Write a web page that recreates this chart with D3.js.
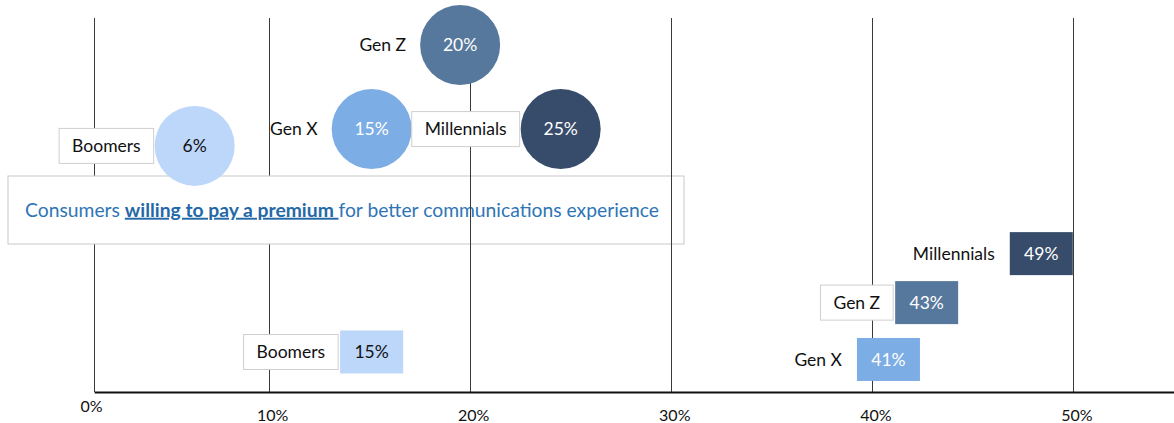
<!DOCTYPE html>
<html>
<head>
<meta charset="utf-8">
<script src="https://cdn.jsdelivr.net/npm/d3@7"></script>
<style>
  body { margin: 0; background: #fff; }
  svg { display: block; font-family: Lato, "Open Sans", sans-serif; }
</style>
</head>
<body>
<div id="chart"></div>
<script>
const generations = ['Boomers', 'Gen X', 'Gen Z', 'Millennials'];
const genColors = ['#bdd7fa', '#7dade5', '#57789d', '#374c6a'];
const genTextColors = ['#111111', '#ffffff', '#ffffff', '#ffffff'];

// upper group (bubbles): willing to pay a premium
const premiumLabels = ['6%', '15%', '20%', '25%'];
const premiumX = [0.063, 0.151, 0.195, 0.245];
const premiumY = [65.8, 70.3, 92.8, 70.3];
const premiumBoxed = [true, false, false, true];

// lower group (squares)
const lowerLabels = ['15%', '41%', '43%', '49%'];
const lowerX = [0.151, 0.408, 0.427, 0.484];
const lowerY = [10.7, 8.7, 23.9, 37.0];
const lowerBoxed = [true, false, true, false];

const tickValues = [0.1, 0.2, 0.3, 0.4, 0.5];
const axisStart = 0.013;
const startLabel = '0%';

const width = 1174;
const height = 423;
const bubbleRadius = 40;
const squareW = 63;
const squareH = 43;
const labelH = 35;
const labelPad = 13;

const svg = d3.select('#chart').append('svg')
  .attr('width', width)
  .attr('height', height);

const x = d3.scaleLinear().domain([0, 0.55]).range([68, 1174]);
const y = d3.scaleLinear().domain([0, 100]).range([392, 18]);

const gridBack = svg.append('g');
const titleLayer = svg.append('g');
const gridFront = svg.append('g');
const marks = svg.append('g');
const axisLayer = svg.append('g');

function drawGrid(layer, values) {
  layer.selectAll('line').data(values).join('line')
    .attr('x1', (d) => x(d)).attr('x2', (d) => x(d))
    .attr('y1', y(100)).attr('y2', y(0))
    .attr('stroke', '#3a3a3a')
    .attr('stroke-width', 1)
    .attr('shape-rendering', 'crispEdges');
}

drawGrid(gridBack, [axisStart].concat(tickValues));

// title box sits over the left grid lines
const titleBox = { x: 8, y: 176, w: 676, h: 68 };
titleLayer.append('rect')
  .attr('x', titleBox.x).attr('y', titleBox.y)
  .attr('width', titleBox.w).attr('height', titleBox.h)
  .attr('fill', '#fff')
  .attr('stroke', '#c8c8c8');

const title = titleLayer.append('text')
  .attr('x', titleBox.x + titleBox.w / 2 - 4)
  .attr('y', titleBox.y + titleBox.h / 2)
  .attr('dy', '0.35em')
  .attr('text-anchor', 'middle')
  .attr('fill', '#2e75b6')
  .attr('font-size', 19.3);
title.append('tspan').text('Consumers ');
title.append('tspan')
  .attr('font-weight', 'bold')
  .attr('fill', '#2468a8')
  .attr('text-decoration', 'underline')
  .text('willing to pay a premium ');
title.append('tspan').text('for better communications experience');

drawGrid(gridFront, tickValues.filter((d) => x(d) > titleBox.x + titleBox.w / 2 + 100));

// x axis
const axisScale = x.copy().domain([axisStart, 0.55]).range([x(axisStart), x(0.55)]);
const xAxis = axisLayer.append('g')
  .attr('transform', `translate(0,${y(0)})`)
  .call(d3.axisBottom(axisScale)
    .tickValues([axisStart].concat(tickValues))
    .tickFormat((d) => (d === axisStart ? startLabel : d3.format('.0%')(d)))
    .tickSize(0)
    .tickPadding(17));
xAxis.select('.domain').attr('stroke', '#111').attr('stroke-width', 2);
xAxis.selectAll('text')
  .attr('font-family', 'Lato, sans-serif')
  .attr('font-size', 16)
  .attr('fill', '#111')
  .attr('dx', (d) => (d === axisStart ? -3 : 3))
  .attr('y', (d) => (d === axisStart ? 9 : 18));

function drawLabel(g, name, right, cy, boxed) {
  const t = g.append('text')
    .attr('y', cy)
    .attr('dy', '0.35em')
    .attr('text-anchor', 'middle')
    .attr('font-size', 17.5)
    .attr('fill', '#111')
    .text(name);
  const w = t.node().getComputedTextLength() + labelPad * 2;
  t.attr('x', right - w / 2);
  if (boxed) {
    g.insert('rect', 'text')
      .attr('x', right - w).attr('y', cy - labelH / 2)
      .attr('width', w).attr('height', labelH)
      .attr('fill', '#fff')
      .attr('stroke', '#cfcfcf');
  }
}

// bubbles
generations.forEach((name, i) => {
  const cx = x(premiumX[i]);
  const cy = y(premiumY[i]);
  const g = marks.append('g');
  g.append('circle')
    .attr('cx', cx).attr('cy', cy)
    .attr('r', bubbleRadius)
    .attr('fill', genColors[i]);
  g.append('text')
    .attr('x', cx).attr('y', cy)
    .attr('dy', '0.35em')
    .attr('text-anchor', 'middle')
    .attr('font-size', 17.5)
    .attr('fill', genTextColors[i])
    .text(premiumLabels[i]);
  drawLabel(g, name, cx - bubbleRadius - 1, cy, premiumBoxed[i]);
});

// squares
generations.forEach((name, i) => {
  const cx = x(lowerX[i]);
  const cy = y(lowerY[i]);
  const g = marks.append('g');
  g.append('rect')
    .attr('x', cx - squareW / 2).attr('y', cy - squareH / 2)
    .attr('width', squareW).attr('height', squareH)
    .attr('fill', genColors[i]);
  g.append('text')
    .attr('x', cx).attr('y', cy)
    .attr('dy', '0.35em')
    .attr('text-anchor', 'middle')
    .attr('font-size', 17.5)
    .attr('fill', genTextColors[i])
    .text(lowerLabels[i]);
  drawLabel(g, name, cx - squareW / 2 - 2, cy, lowerBoxed[i]);
});
</script>
</body>
</html>
